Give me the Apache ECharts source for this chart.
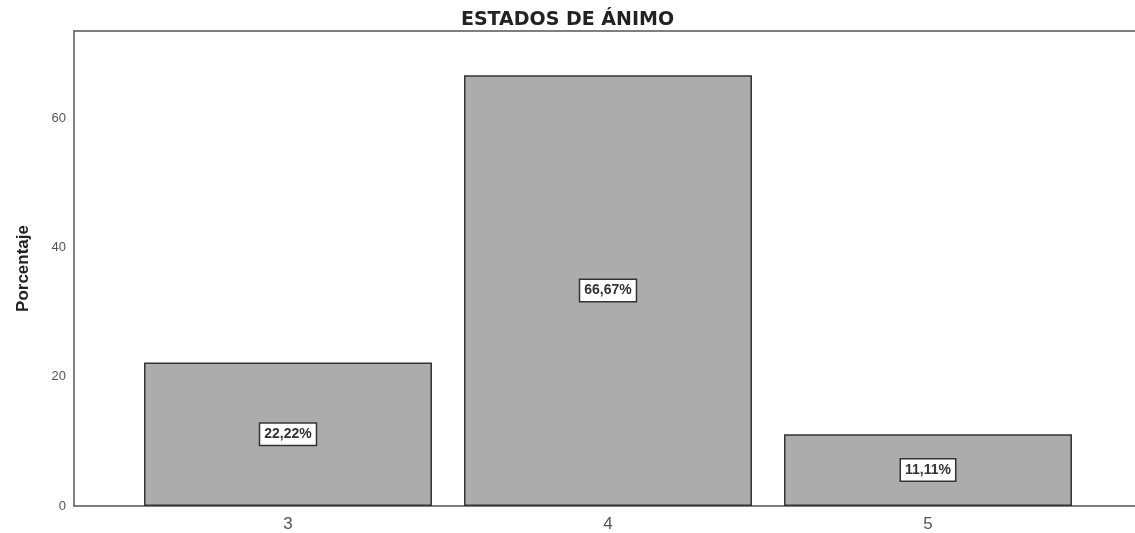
<!DOCTYPE html>
<html>
<head>
<meta charset="utf-8">
<title>ESTADOS DE ÁNIMO</title>
<script src="https://cdn.jsdelivr.net/npm/echarts@6/dist/echarts.min.js"></script>
<style>
  html, body { margin: 0; padding: 0; background: #ffffff; }
  #chart { width: 1135px; height: 533px; }
</style>
</head>
<body>
<div id="chart"></div>
<script>
// Mood states: share of respondents per score
const categories = [3, 4, 5];
const percentages = [22.22, 66.67, 11.11];
const yTickValues = [0, 20, 40, 60];

const barData = categories.map((c, i) => [c, percentages[i]]);

const chart = echarts.init(document.getElementById('chart'), null, { renderer: 'canvas' });

const axisColor = '#555555';
const xMin = 2.33125;
const xMax = 5.6469;

chart.setOption({
  animation: false,
  backgroundColor: '#ffffff',
  title: {
    text: 'ESTADOS DE ÁNIMO',
    left: 'center',
    top: 6,
    textStyle: {
      fontFamily: 'DejaVu Sans, sans-serif',
      fontSize: 19,
      fontWeight: 'bold',
      color: '#222222'
    }
  },
  grid: {
    left: 74,
    top: 31,
    right: 0,
    bottom: 27
  },
  xAxis: [{
    type: 'value',
    min: xMin,
    max: xMax,
    splitLine: { show: false },
    axisLine: { show: true, lineStyle: { color: axisColor, width: 1.5 } },
    axisTick: { show: false },
    axisLabel: {
      customValues: categories,
      margin: 10,
      fontFamily: 'Liberation Sans, Arial, sans-serif',
      fontSize: 17,
      color: '#555555'
    }
  }, {
    // top edge of the frame
    type: 'value',
    position: 'top',
    min: xMin,
    max: xMax,
    splitLine: { show: false },
    axisLine: { show: true, lineStyle: { color: axisColor, width: 1.5 } },
    axisTick: { show: false },
    axisLabel: { show: false }
  }],
  yAxis: {
    type: 'value',
    min: 0,
    max: 73.5,
    name: 'Porcentaje',
    nameLocation: 'middle',
    nameGap: 42,
    nameMoveOverlap: false,
    nameTextStyle: {
      fontFamily: 'Liberation Sans, Arial, sans-serif',
      fontSize: 17,
      fontWeight: 'bold',
      color: '#222222'
    },
    splitLine: { show: false },
    axisLine: { show: true, lineStyle: { color: axisColor, width: 1.5 } },
    axisTick: { show: false },
    axisLabel: {
      customValues: yTickValues,
      margin: 8,
      padding: [5, 0, 0, 0],
      fontFamily: 'Liberation Sans, Arial, sans-serif',
      fontSize: 13,
      color: '#555555'
    }
  },
  series: [{
    type: 'bar',
    xAxisIndex: 0,
    data: barData,
    barWidth: 288,
    itemStyle: {
      color: '#acacac',
      borderColor: '#333333',
      borderWidth: 1.5
    },
    label: {
      show: true,
      position: 'inside',
      formatter: p => p.value[1].toFixed(2).replace('.', ',') + '%',
      fontFamily: 'Liberation Sans, Arial, sans-serif',
      fontSize: 14,
      fontWeight: 'bold',
      color: '#333333',
      backgroundColor: '#ffffff',
      borderColor: '#333333',
      borderWidth: 1.5,
      padding: [4, 4, 3, 4]
    }
  }]
});
</script>
</body>
</html>
